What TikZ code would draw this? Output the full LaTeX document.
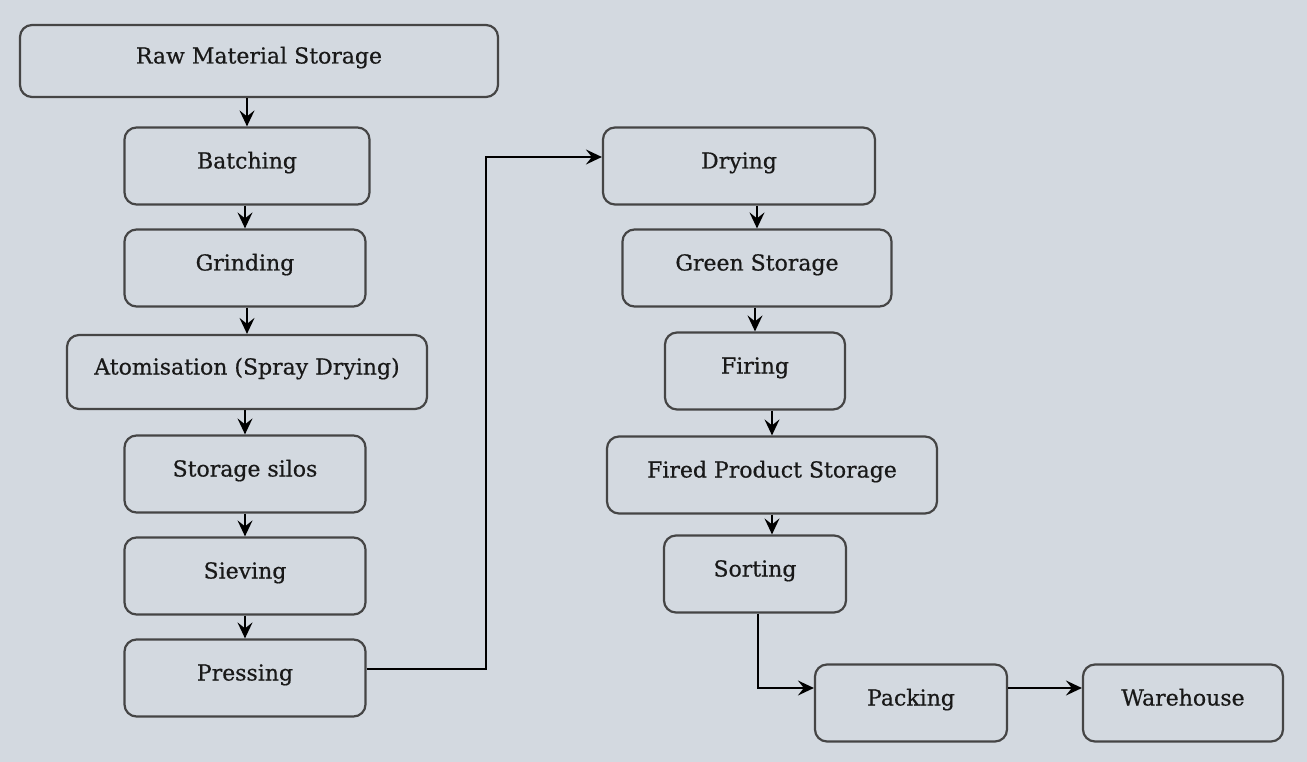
\documentclass[tikz,border=0pt]{standalone}
\usepackage{fontspec}
\setmainfont{DejaVu Serif}
\newfontfamily\stagefont[FakeBold=0.6]{DejaVu Serif}
\usepackage{xcolor}
\usepackage{tikz}
\usetikzlibrary{positioning, arrows.meta, calc}

\definecolor{bgpanel}{HTML}{D3D9E0}
\definecolor{boxline}{HTML}{454545}

\tikzset{
  stage/.style={draw=boxline, line width=2.2pt, rounded corners=12pt, fill=bgpanel,
    minimum height=77pt, text height=16pt, text depth=11pt, inner sep=0pt,
    text=black!90, font=\stagefont\fontsize{22}{26}\selectfont},
  flow/.style={->, line width=1.8pt, black}
}

\begin{document}
\begin{tikzpicture}[x=1pt, y=-1pt, node distance=102pt, >={Stealth[length=16pt,width=15pt,inset=6pt]}]
		% Background panel
		\fill[bgpanel] (0,0) rectangle (1307,762);
		\useasboundingbox (0,0) rectangle (1307,762);
		
		% Left column
		\node (raw) [stage, minimum width=478pt, minimum height=72pt] at (259,61) {Raw Material Storage};
		\node (batch) [stage, minimum width=245pt, below of=raw, xshift=-12pt, yshift=-3pt] {Batching};
		\node (grind) [stage, minimum width=241pt, below of=batch, xshift=-2pt] {Grinding};
		\node (atom) [stage, minimum width=360pt, minimum height=74pt, below of=grind, xshift=2pt, yshift=-2pt] {Atomisation (Spray Drying)};
		\node (silo) [stage, minimum width=241pt, below of=atom, xshift=-2pt] {Storage silos};
		\node (sieve) [stage, minimum width=241pt, below of=silo] {Sieving};
		\node (press) [stage, minimum width=241pt, below of=sieve] {Pressing};
		
		% Right column
		\node (dry) [stage, minimum width=272pt] at (739,166) {Drying};
		\node (green) [stage, minimum width=269pt, below of=dry, xshift=18pt] {Green Storage};
		\node (fire) [stage, minimum width=180pt, below of=green, xshift=-2pt, yshift=-1pt] {Firing};
		\node (fired) [stage, minimum width=330pt, below of=fire, xshift=17pt, yshift=-2pt] {Fired Product Storage};
		\node (sort) [stage, minimum width=182pt, below of=fired, xshift=-17pt, yshift=3pt] {Sorting};
		
		% Bottom row
		\node (pack) [stage, minimum width=192pt] at (911,703) {Packing};
		\node (ware) [stage, minimum width=200pt, right of=pack, node distance=272pt] {Warehouse};
		
		% Connect the nodes with arrows
		\draw[flow] (raw.south -| batch.north) -- (batch.north);
		\draw[flow] (batch.south -| grind.north) -- (grind.north);
		\draw[flow] (grind.south -| atom.north) -- (atom.north);
		\draw[flow] (atom.south -| silo.north) -- (silo.north);
		\draw[flow] (silo.south) -- (sieve.north);
		\draw[flow] (sieve.south) -- (press.north);
		\draw[flow] ([yshift=9pt]press.east) -- ++(119pt,0) |- ([yshift=9pt]dry.west);
		\draw[flow] (dry.south -| green.north) -- (green.north);
		\draw[flow] (green.south -| fire.north) -- (fire.north);
		\draw[flow] (fire.south -| fired.north) -- (fired.north);
		\draw[flow] (fired.south) -- (fired.south |- sort.north);
		\draw[flow] ([xshift=3pt]sort.south) |- ([yshift=15pt]pack.west);
		\draw[flow] ([yshift=15pt]pack.east) -- ([yshift=15pt]ware.west);
	\end{tikzpicture}
\end{document}
